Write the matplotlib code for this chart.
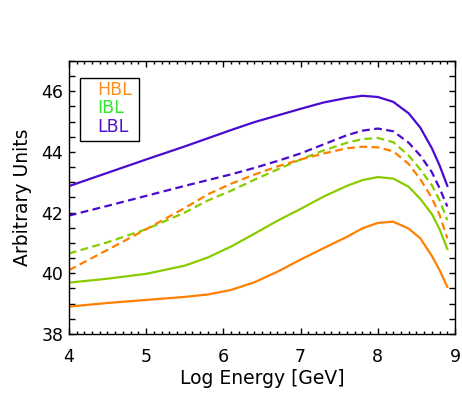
import matplotlib
matplotlib.use("Agg")
import matplotlib.pyplot as plt
from matplotlib.patches import Rectangle
from matplotlib.ticker import MultipleLocator

# Energia (log) i krzywe
log_energy = [4.0, 4.5, 5.0, 5.5, 5.8, 6.1, 6.4, 6.7, 7.0, 7.3, 7.6, 7.8,
              8.0, 8.2, 8.4, 8.55, 8.7, 8.8, 8.9]

lbl_solid = [42.87, 43.31, 43.75, 44.18, 44.45, 44.72, 44.98, 45.20, 45.42, 45.63,
             45.78, 45.85, 45.81, 45.65, 45.27, 44.80, 44.12, 43.55, 42.88]
lbl_dash = [41.90, 42.22, 42.55, 42.88, 43.07, 43.26, 43.47, 43.70, 43.95, 44.25,
            44.55, 44.70, 44.77, 44.68, 44.30, 43.88, 43.33, 42.80, 42.20]
ibl_dash = [40.65, 41.02, 41.45, 42.00, 42.40, 42.72, 43.08, 43.42, 43.75, 44.05,
            44.30, 44.42, 44.46, 44.32, 43.88, 43.42, 42.90, 42.40, 41.75]
hbl_dash = [40.10, 40.77, 41.45, 42.15, 42.60, 42.95, 43.25, 43.52, 43.75, 43.95,
            44.12, 44.17, 44.15, 44.02, 43.60, 43.10, 42.48, 41.92, 41.15]
ibl_solid = [39.69, 39.82, 39.98, 40.25, 40.52, 40.88, 41.30, 41.73, 42.12, 42.53,
             42.88, 43.07, 43.17, 43.12, 42.85, 42.45, 41.95, 41.45, 40.80]
hbl_solid = [38.90, 39.02, 39.12, 39.22, 39.30, 39.45, 39.70, 40.05, 40.45, 40.83,
             41.20, 41.48, 41.66, 41.70, 41.47, 41.15, 40.57, 40.10, 39.55]

legend_names = ["HBL", "IBL", "LBL"]
legend_colors = ["#ff8c1a", "#2ee82e", "#5010d0"]

c_orange = "#ff8000"
c_green = "#88cc00"
c_purple = "#4b0acf"

fig = plt.figure(figsize=(4.62, 3.98), dpi=100)
ax = fig.add_axes([0.149, 0.161, 0.836, 0.686])

dash = (0, (3.5, 2))
lw = 1.6
ax.plot(log_energy, lbl_solid, color=c_purple, lw=lw)
ax.plot(log_energy, lbl_dash, color=c_purple, lw=lw, linestyle=dash)
ax.plot(log_energy, ibl_dash, color=c_green, lw=lw, linestyle=dash)
ax.plot(log_energy, hbl_dash, color=c_orange, lw=lw, linestyle=dash)
ax.plot(log_energy, ibl_solid, color=c_green, lw=lw)
ax.plot(log_energy, hbl_solid, color=c_orange, lw=lw)

ax.set_xlim(4, 9)
ax.set_ylim(38, 47)
ax.xaxis.set_major_locator(MultipleLocator(1))
ax.xaxis.set_minor_locator(MultipleLocator(0.1))
ax.yaxis.set_major_locator(MultipleLocator(2))
ax.yaxis.set_minor_locator(MultipleLocator(0.5))

ax.tick_params(which="both", direction="in", top=True, right=True, width=1.0, labelsize=12.5)
ax.tick_params(axis="x", which="major", length=4.0, pad=10)
ax.tick_params(axis="x", which="minor", length=2.0)
ax.tick_params(axis="y", which="both", length=4.3, pad=4)
for s in ax.spines.values():
    s.set_linewidth(1.0)

ax.set_xlabel("Log Energy [GeV]", fontsize=13.5, labelpad=2)
ax.set_ylabel("Arbitrary Units", fontsize=13.5, labelpad=7)

# Ramka legendy
ax.add_patch(Rectangle((0.030, 0.708), 0.151, 0.230, transform=ax.transAxes,
                       fill=False, edgecolor="black", lw=1.0))
for i, (name, col) in enumerate(zip(legend_names, legend_colors)):
    ax.text(0.073, 0.894 - i * 0.068, name, color=col, fontsize=12.5,
            transform=ax.transAxes, va="center", ha="left")

fig.savefig("out.png", dpi=100)
